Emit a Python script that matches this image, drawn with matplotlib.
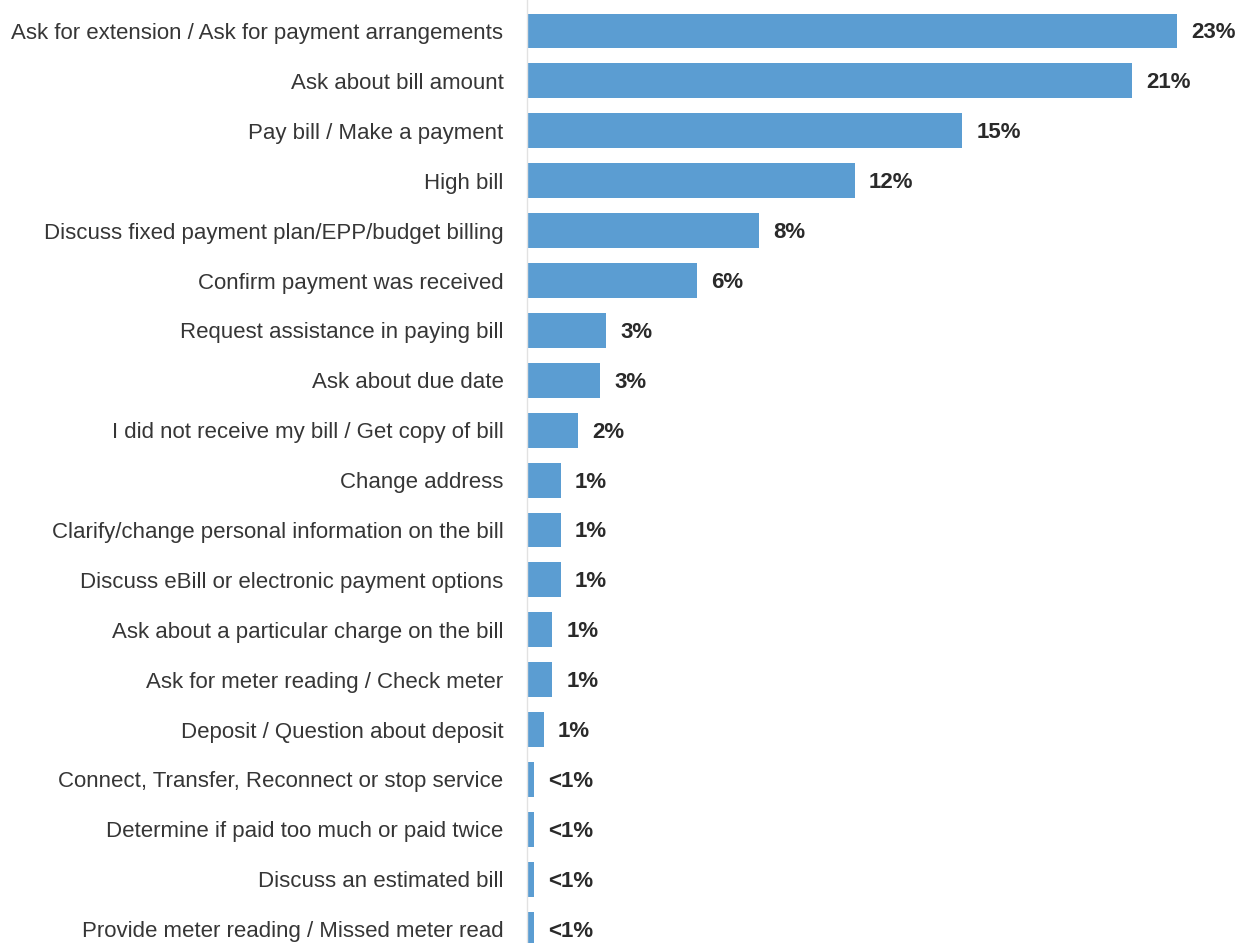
import matplotlib
matplotlib.use("Agg")
import matplotlib.pyplot as plt
from matplotlib import font_manager

categories = [
    "Ask for extension / Ask for payment arrangements",
    "Ask about bill amount",
    "Pay bill / Make a payment",
    "High bill",
    "Discuss fixed payment plan/EPP/budget billing",
    "Confirm payment was received",
    "Request assistance in paying bill",
    "Ask about due date",
    "I did not receive my bill / Get copy of bill",
    "Change address",
    "Clarify/change personal information on the bill",
    "Discuss eBill or electronic payment options",
    "Ask about a particular charge on the bill",
    "Ask for meter reading / Check meter",
    "Deposit / Question about deposit",
    "Connect, Transfer, Reconnect or stop service",
    "Determine if paid too much or paid twice",
    "Discuss an estimated bill",
    "Provide meter reading / Missed meter read",
]
shares = [23.0, 21.4, 15.4, 11.6, 8.2, 6.0, 2.8, 2.6, 1.8, 1.2, 1.2, 1.2,
          0.9, 0.9, 0.6, 0.25, 0.25, 0.25, 0.25]


def pct_label(v):
    return "<1%" if v < 0.5 else f"{round(v):d}%"


names = {f.name for f in font_manager.fontManager.ttflist}
label_font = "Liberation Sans Narrow" if "Liberation Sans Narrow" in names else "Liberation Sans"

W, H = 1242, 943
fig = plt.figure(figsize=(W / 100, H / 100), dpi=100)
fig.patch.set_facecolor("white")

x0 = 527
ax = fig.add_axes([x0 / W, 0, 1 - x0 / W, 1])
row = 49.9
ax.set_ylim((H - 31) / row, -31 / row)
ax.set_xlim(0, 23 * (W - x0) / (1177 - x0))

ypos = list(range(len(categories)))
ax.barh(ypos, shares, height=0.7, color="#5b9dd2", edgecolor="none")

for y, v in zip(ypos, shares):
    ax.text(v + 0.5, y + 0.04, pct_label(v), va="center", ha="left",
            fontsize=16, fontweight="bold", color="#2a2a2a",
            family="Liberation Sans")

ax.set_yticks(ypos)
ax.set_yticklabels(categories, fontsize=16.0, color="#363636", family=label_font)
ax.tick_params(axis="y", length=0, pad=17)
ax.set_xticks([])
for s in ["top", "right", "bottom"]:
    ax.spines[s].set_visible(False)
ax.spines["left"].set_color("#e2e2e2")
ax.spines["left"].set_linewidth(1.0)
ax.set_facecolor("none")

fig.savefig("out.png", dpi=100)
